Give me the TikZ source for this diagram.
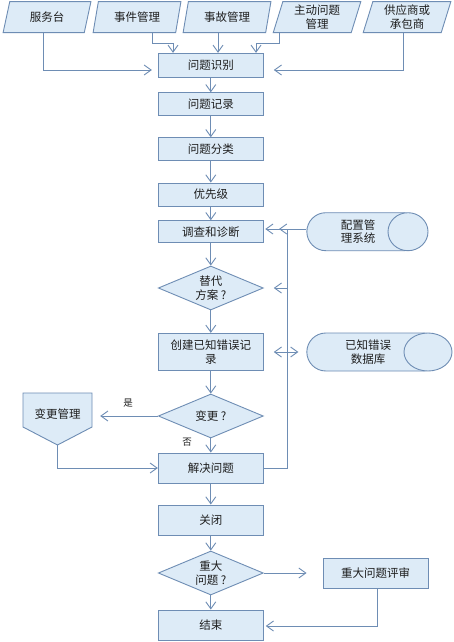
\documentclass[tikz,border=0pt]{standalone}
\usepackage{fontspec}
\newfontfamily\cjk{Noto Sans CJK SC}
\usetikzlibrary{shapes.geometric,shapes.misc,arrows.meta,calc}
\definecolor{bd}{HTML}{6E8DB4}
\definecolor{fl}{HTML}{DDEBF7}
\definecolor{tx}{HTML}{1E1E1E}
\begin{document}
\begin{tikzpicture}[x=1pt,y=-1pt,
  every node/.style={font=\cjk\fontsize{11.5}{13.5}\selectfont, text=tx, align=center, inner sep=1pt},
  box/.style={rectangle, draw=bd, fill=fl, line width=0.9pt, minimum width=105pt},
  dia/.style={diamond, draw=bd, fill=fl, line width=0.9pt, minimum width=105pt, minimum height=44pt, aspect=2.4, inner sep=0pt},
  para/.style={trapezium, trapezium left angle=75.5, trapezium right angle=104.5, trapezium stretches=true, draw=bd, fill=fl, line width=0.9pt, minimum width=88pt, minimum height=31pt},
  dbbody/.style={rounded rectangle, rounded rectangle right arc=none, draw=bd, fill=fl, line width=0.9pt, minimum height=38pt},
  dbend/.style={ellipse, draw=bd, fill=fl, line width=0.9pt, minimum height=38pt, inner sep=0pt},
  arr/.style={draw=bd, line width=0.9pt, -{Straight Barb[length=7pt,width=10pt]}},
  darr/.style={draw=bd, line width=0.9pt, {Straight Barb[length=7pt,width=10pt]}-{Straight Barb[length=7pt,width=10pt]}},
  lbl/.style={font=\cjk\fontsize{9.5}{11}\selectfont}
]
\fill[white] (0,0) rectangle (453,642);
\useasboundingbox (0,0) rectangle (453,642);

% top inputs
\node[para] (b1) at (47,17.2) {服务台};
\node[para] (b2) at (137,17.2) {事件管理};
\node[para] (b3) at (227,17.2) {事故管理};
\node[para] (b4) at (317,17.2) {主动问题\\管理};
\node[para] (b5) at (407,17.2) {供应商或\\承包商};

% main column
\node[box, minimum height=24pt] (id) at (210.8,65.3) {问题识别};
\node[box, minimum height=22.3pt] (rec) at (210.8,103.9) {问题记录};
\node[box, minimum height=23pt] (cls) at (210.8,149.2) {问题分类};
\node[box, minimum height=23pt] (pri) at (210.8,194.5) {优先级};
\node[box, minimum height=22pt] (inv) at (210.8,231.7) {调查和诊断};
\node[dia] (alt) at (210.8,288) {替代\\方案 ?};
\node[box, minimum height=37.4pt] (kerr) at (210.8,352) {创建已知错误记\\录};
\node[dia] (chg) at (210.8,416) {变更 ?};
\node[box, minimum height=30pt] (res) at (210.8,468) {解决问题};
\node[box, minimum height=30pt] (clo) at (210.8,520) {关闭};
\node[dia] (maj) at (210.8,573) {重大\\问题 ?};
\node[box, minimum height=30pt] (fin) at (210.8,625) {结束};
\node[box, minimum height=30pt] (rev) at (375.5,573) {重大问题评审};

% databases (horizontal cylinders)
\node[dbbody, minimum width=100pt] (cms) at (358,231.7) {配置管\\理系统};
\node[dbend, minimum width=40pt] (cmse) at (408,231.7) {};
\node[dbbody, minimum width=120pt] (ked) at (368,352) {已知错误\\数据库};
\node[dbend, minimum width=48pt] (kede) at (428,352) {};

% change management (off-page shape)
\filldraw[fill=fl, draw=bd, line width=0.9pt] (23,393) -- (92,393) -- (92,427) -- (57.5,445) -- (23,427) -- cycle;
\node[minimum width=69pt] (cm) at (57.5,414) {变更管理};
\coordinate (cmt) at (57.5,445);

% labels
\node[lbl] (yes) at (128,403) {是};
\node[lbl] (no) at (187,442) {否};

% bend helpers
\coordinate (k1) at (43,70);
\coordinate (k2) at (152,43);
\coordinate (k3) at (173,43);
\coordinate (k4) at (218,43);
\coordinate (k5) at (279,43);
\coordinate (k6) at (256,43);
\coordinate (k7) at (403,70);
\coordinate (lp) at (287,229);
\coordinate (rb) at (377,626);

% top connectors
\draw[arr, shorten >=6pt] (b1.south -| k1) -- (k1) -- (id.west |- k1);
\draw[arr] (b2.south -| k2) -- (k2) -- (k3) -- (id.north -| k3);
\draw[arr] (b3.south -| k4) -- (id.north -| k4);
\draw[arr] (b4.south -| k5) -- (k5) -- (k6) -- (id.north -| k6);
\draw[arr, shorten >=10pt] (b5.south -| k7) -- (k7) -- (id.east |- k7);

% main flow
\foreach \a/\b in {id/rec, rec/cls, cls/pri, pri/inv, inv/alt, alt/kerr, kerr/chg, chg/res, res/clo, clo/maj, maj/fin}
  \draw[arr] (\a) -- (\b);

% side connectors
\draw[arr, shorten >=8pt] (chg.west) -- (chg.west -| cm.east);
\draw[arr] (cmt) |- (res.west);
\draw[arr, shorten >=1.5pt] (res.east) -| (lp) -- (inv.east |- lp);
\draw[arr, shorten >=-8pt] (cms.west |- lp) -- (lp);
\draw[arr, shorten >=10pt] (lp |- alt.east) -- (alt.east);
\draw[darr, shorten <=10pt, shorten >=8pt] (kerr.east) -- (ked.west);
\draw[arr, shorten >=16pt] (maj.east) -- (rev.west);
\draw[arr, shorten >=2pt] (rev.south -| rb) -- (rb) -- (fin.east |- rb);
\end{tikzpicture}
\end{document}
